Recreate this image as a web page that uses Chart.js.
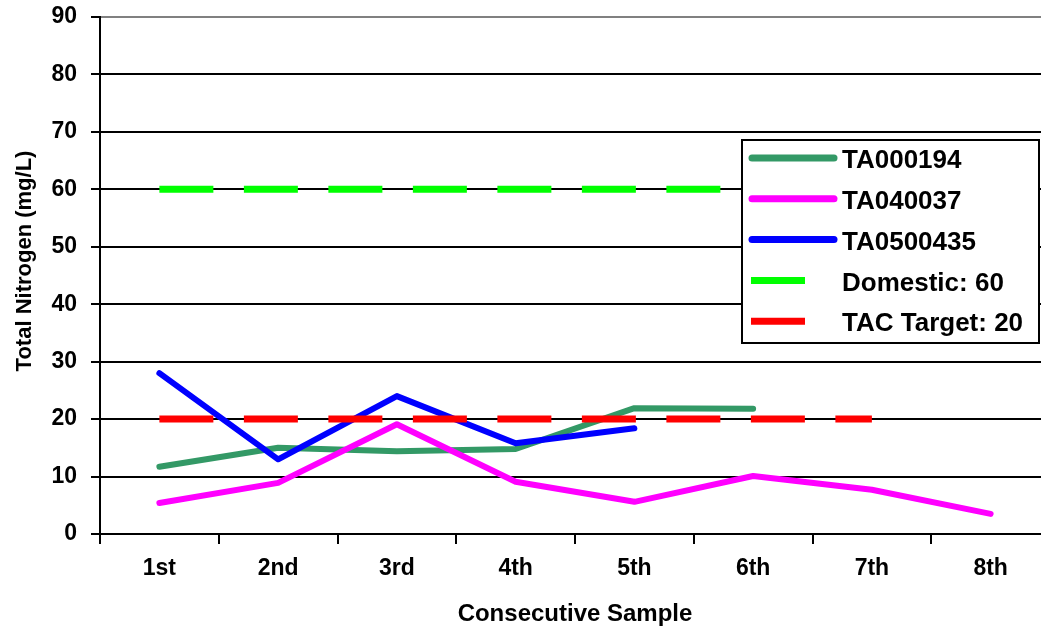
<!DOCTYPE html>
<html>
<head>
<meta charset="utf-8">
<script src="https://cdn.jsdelivr.net/npm/chart.js@4.4.1/dist/chart.umd.min.js"></script>
<style>
  html, body { margin: 0; padding: 0; overflow: hidden; background: #fff; }
  #wrap { width: 1052px; height: 632px; }
</style>
</head>
<body>
<div id="wrap"><canvas id="chart" width="1052" height="632"></canvas></div>
<script>
// Sample order along the x axis
const samples = ['1st', '2nd', '3rd', '4th', '5th', '6th', '7th', '8th'];

// Total nitrogen (mg/L) per unit
const ta000194  = [11.7, 15.0, 14.4, 14.8, 21.9, 21.8, null, null];
const ta040037  = [5.4, 8.9, 19.1, 9.1, 5.6, 10.1, 7.7, 3.5];
const ta0500435 = [28.0, 13.0, 24.0, 15.8, 18.4, null, null, null];

// Reference limits
const domestic  = [60, 60, 60, 60, 60, 60, null, null];
const tacTarget = [20, 20, 20, 20, 20, 20, 20, null];

// Value axis ticks
const yMin = 0, yMax = 90, yStep = 10;

const FONT = '"Liberation Sans", Arial, Helvetica, sans-serif';

// Boxed legend in the upper right of the plot
const boxLegend = {
  id: 'boxLegend',
  afterDraw(chart) {
    const ctx = chart.ctx;
    const x0 = 742, y0 = 140, x1 = 1039, y1 = 343;
    ctx.save();
    ctx.fillStyle = '#ffffff';
    ctx.fillRect(x0, y0, x1 - x0, y1 - y0);
    ctx.lineWidth = 2;
    ctx.strokeStyle = '#000000';
    ctx.strokeRect(x0, y0, x1 - x0, y1 - y0);
    const rowTop = 158, rowGap = 40.8;
    chart.data.datasets.forEach((ds, i) => {
      const y = rowTop + i * rowGap;
      ctx.beginPath();
      ctx.strokeStyle = ds.borderColor;
      if (ds.borderDash && ds.borderDash.length) {
        ctx.lineWidth = 7;
        ctx.lineCap = 'butt';
        ctx.moveTo(751, y);
        ctx.lineTo(805, y);
      } else {
        ctx.lineWidth = 7;
        ctx.lineCap = 'round';
        ctx.moveTo(752, y);
        ctx.lineTo(834, y);
      }
      ctx.stroke();
      ctx.fillStyle = '#000000';
      ctx.font = 'bold 26px ' + FONT;
      ctx.textAlign = 'left';
      ctx.textBaseline = 'middle';
      ctx.fillText(ds.label, 842, y + 3);
    });
    ctx.restore();
  }
};

// Rotated value-axis caption
const yCaption = {
  id: 'yCaption',
  afterDraw(chart) {
    const ctx = chart.ctx;
    ctx.save();
    ctx.translate(25, 261);
    ctx.rotate(-Math.PI / 2);
    ctx.fillStyle = '#000000';
    ctx.font = 'bold 22px ' + FONT;
    ctx.textAlign = 'center';
    ctx.textBaseline = 'middle';
    ctx.fillText('Total Nitrogen (mg/L)', 0, 0);
    ctx.restore();
  }
};

const solid = (label, data, color, order) => ({
  label, data, order,
  borderColor: color,
  backgroundColor: color,
  borderWidth: 6,
  borderCapStyle: 'round',
  borderJoinStyle: 'round',
  pointRadius: 0,
  pointHoverRadius: 0,
  tension: 0,
  fill: false,
  spanGaps: false
});

const dashed = (label, data, color, order) => ({
  label, data, order,
  borderColor: color,
  backgroundColor: color,
  borderWidth: 7,
  borderDash: [54, 30.5],
  borderCapStyle: 'butt',
  pointRadius: 0,
  pointHoverRadius: 0,
  tension: 0,
  fill: false
});

new Chart(document.getElementById('chart'), {
  type: 'line',
  data: {
    labels: samples,
    datasets: [
      solid('TA000194', ta000194, '#339966', 5),
      solid('TA040037', ta040037, '#FF00FF', 4),
      solid('TA0500435', ta0500435, '#0000FF', 3),
      dashed('Domestic: 60', domestic, '#00FF00', 2),
      dashed('TAC Target: 20', tacTarget, '#FF0000', 1)
    ]
  },
  options: {
    responsive: false,
    animation: false,
    events: [],
    layout: { padding: { top: 17, left: 0, right: 2, bottom: 0 } },
    plugins: {
      legend: { display: false },
      tooltip: { enabled: false },
      title: { display: false }
    },
    scales: {
      x: {
        type: 'category',
        offset: true,
        afterFit(scale) {
          scale.height = 98;
          scale.paddingLeft = 0;
          scale.paddingRight = 0;
        },
        border: { display: true, color: '#000000', width: 2 },
        grid: {
          offset: true,
          drawOnChartArea: false,
          drawTicks: true,
          tickLength: 10,
          tickColor: '#000000',
          tickWidth: 2,
          lineWidth: 2
        },
        ticks: {
          color: '#000000',
          padding: 11,
          maxRotation: 0,
          autoSkip: false,
          font: { family: FONT, size: 23, weight: 'bold' }
        },
        title: {
          display: true,
          text: 'Consecutive Sample',
          color: '#000000',
          font: { family: FONT, size: 24, weight: 'bold', lineHeight: 1.2 },
          padding: { top: 0, bottom: 3 }
        }
      },
      y: {
        min: yMin,
        max: yMax,
        afterFit(scale) {
          scale.width = 100;
          scale.paddingTop = 0;
          scale.paddingBottom = 0;
        },
        border: { display: true, color: '#000000', width: 2 },
        grid: {
          color: (c) => (c.tick && c.tick.value === yMax ? '#808080' : '#000000'),
          lineWidth: 2,
          drawTicks: true,
          tickLength: 9,
          tickColor: '#000000',
          tickWidth: 2
        },
        ticks: {
          stepSize: yStep,
          color: '#000000',
          padding: 14,
          font: { family: FONT, size: 23, weight: 'bold' }
        }
      }
    }
  },
  plugins: [boxLegend, yCaption]
});
</script>
</body>
</html>
